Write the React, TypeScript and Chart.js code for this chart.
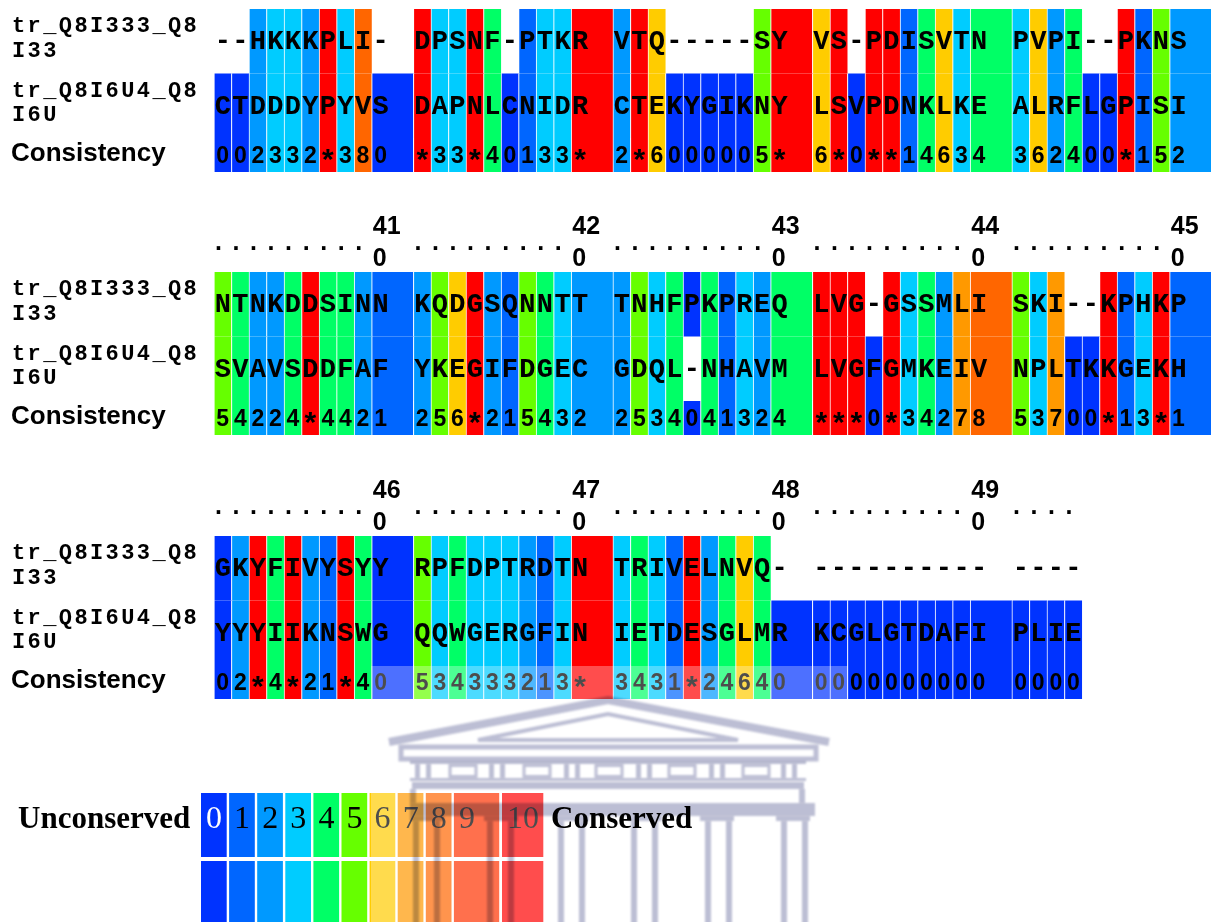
import React, { useEffect, useRef } from "react";
import { Chart, registerables } from "chart.js";

Chart.register(...registerables);

// ---------------- data ----------------
const SEQUENCE_NAMES = ["tr_Q8I333_Q8I33", "tr_Q8I6U4_Q8I6U"];
const CONSISTENCY_LABEL = "Consistency";
const BLOCK_FIRST_POSITION = [351, 401, 451];
const SHOW_RULER = [false, true, true];

const SEQ_A = [
  "--HKKKPLI- DPSNF-PTKR VTQ-----SY VS-PDISVTN PVPI--PKNS",
  "NTNKDDSINN KQDGSQNNTT TNHFPKPREQ LVG-GSSMLI SKI--KPHKP",
  "GKYFIVYSYY RPFDPTRDTN TRIVELNVQ- ---------- ----",
];
const SEQ_B = [
  "CTDDDYPYVS DAPNLCNIDR CTEKYGIKNY LSVPDNKLKE ALRFLGPISI",
  "SVAVSDDFAF YKEGIFDGEC GDQL-NHAVM LVGFGMKEIV NPLTKKGEKH",
  "YYYIIKNSWG QQWGERGFIN IETDESGLMR KCGLGTDAFI PLIE",
];
const CONSISTENCY = [
  "002332*380 *33*40133* 2*6000005* 6*0**14634 362400*152",
  "54224*4421 256*215432 2534041324 ***0*34278 53700*13*1",
  "02*4*21*40 534333213* 3431*24640 0000000000 0000",
];
const RULER_TICKS = [[], ["410", "420", "430", "440", "450"], ["460", "470", "480", "490"]];

const SCORE_COLORS = [
  "#0033ff", "#0066ff", "#0099ff", "#00ccff", "#00ff66", "#66ff00",
  "#ffcc00", "#ff9900", "#ff6600", "#ff3300", "#ff0000",
];
const LEGEND_LABELS = ["0", "1", "2", "3", "4", "5", "6", "7", "8", "9", "10"];
const LEGEND_LOW = "Unconserved";
const LEGEND_HIGH = "Conserved";

// ---------------- layout ----------------
const W = 1211;
const H = 922;
const CW = 17.53; // px per alignment column
const X0 = 214; // left edge of alignment
const GROUP_UNITS = 11.38; // 10 columns + spacer, in column units
const BLOCK_TOP = [9, 272, 536];
const SEQ_H = 64.5;
const CONS_H = 34;

const strip = (s: string) => s.replace(/ /g, "");
const colLeft = (i: number) => Math.floor(i / 10) * GROUP_UNITS + (i % 10);
const scoreOf = (ch: string) => (ch === "*" ? 10 : parseInt(ch, 10));
const rowCenter = (b: number, r: number) =>
  BLOCK_TOP[b] + (r === 0 ? SEQ_H / 2 : r === 1 ? SEQ_H * 1.5 : SEQ_H * 2 + CONS_H / 2);

type Cell = { x: [number, number]; y: number; c: string };

function buildCells() {
  const seqCells: Cell[] = [];
  const consCells: Cell[] = [];
  BLOCK_FIRST_POSITION.forEach((_, b) => {
    const rows = [strip(SEQ_A[b]), strip(SEQ_B[b]), strip(CONSISTENCY[b])];
    const cons = rows[2];
    for (let r = 0; r < 3; r++) {
      const s = rows[r];
      for (let i = 0; i < s.length; i++) {
        if (r < 2 && s[i] === "-") continue;
        const left = colLeft(i);
        const w = i % 10 === 9 ? 1 + (GROUP_UNITS - 10) : 1;
        const cell: Cell = { x: [left, left + w], y: rowCenter(b, r), c: SCORE_COLORS[scoreOf(cons[i])] };
        (r < 2 ? seqCells : consCells).push(cell);
      }
    }
  });
  return { seqCells, consCells };
}

function drawBuilding(ctx: CanvasRenderingContext2D) {
  ctx.save();
  ctx.globalCompositeOperation = "multiply";
  ctx.filter = "blur(0.8px)";
  const c = "#bcbed4";
  ctx.strokeStyle = c;
  ctx.fillStyle = c;
  ctx.lineJoin = "miter";
  // pediment
  ctx.lineWidth = 8;
  ctx.beginPath();
  ctx.moveTo(389, 742);
  ctx.lineTo(608, 700);
  ctx.lineTo(829, 742);
  ctx.stroke();
  ctx.lineWidth = 4;
  ctx.beginPath();
  ctx.moveTo(478, 740);
  ctx.lineTo(608, 714);
  ctx.lineTo(738, 740);
  ctx.closePath();
  ctx.stroke();
  // cornice
  ctx.lineWidth = 5;
  ctx.strokeRect(401, 747, 415, 12);
  // frieze
  ctx.fillRect(410, 761, 396, 3);
  ctx.fillRect(410, 778, 396, 3);
  const trig = [415, 489, 564, 636, 709, 781];
  trig.forEach((x) => {
    ctx.fillRect(x, 764, 5, 14);
    ctx.fillRect(x + 11, 764, 5, 14);
  });
  const met = [450, 524, 596, 669, 743];
  ctx.lineWidth = 3;
  met.forEach((x) => ctx.strokeRect(x, 765.5, 26, 11));
  // architrave
  ctx.fillRect(412, 782, 392, 7);
  ctx.fillRect(410, 789, 6, 14);
  ctx.fillRect(799, 789, 6, 14);
  // abacus band
  ctx.fillRect(410, 803, 405, 13);
  // capitals
  [413, 487, 558, 631, 703, 779].forEach((x) => ctx.fillRect(x - 3, 816, 34, 5));
  // columns
  const cols = [413, 487, 558, 631, 705, 781];
  cols.forEach((x) => {
    ctx.fillRect(x, 821, 6, 110);
    ctx.fillRect(x + 21, 821, 6, 110);
  });
  ctx.restore();
}

// draw a glyph vertically centred on yc
function centredText(ctx: CanvasRenderingContext2D, s: string, x: number, yc: number) {
  const m = ctx.measureText(s);
  const asc = m.actualBoundingBoxAscent;
  const desc = m.actualBoundingBoxDescent;
  ctx.fillText(s, x, yc + (asc - desc) / 2);
}

const alignmentPlugin = {
  id: "alignmentText",
  beforeDraw(chart: any) {
    const ctx: CanvasRenderingContext2D = chart.ctx;
    ctx.save();
    ctx.fillStyle = "#ffffff";
    ctx.fillRect(0, 0, chart.width, chart.height);
    ctx.restore();
  },
  afterDatasetsDraw(chart: any) {
    const ctx: CanvasRenderingContext2D = chart.ctx;
    const xs = chart.scales.x;
    const ys = chart.scales.y;
    ctx.save();
    ctx.fillStyle = "#000";
    ctx.textBaseline = "alphabetic";

    BLOCK_FIRST_POSITION.forEach((first, b) => {
      const rows = [strip(SEQ_A[b]), strip(SEQ_B[b]), strip(CONSISTENCY[b])];
      // row labels
      for (let r = 0; r < 3; r++) {
        const top = ys.getPixelForValue(rowCenter(b, r)) - (r < 2 ? SEQ_H : CONS_H) / 2;
        ctx.textAlign = "left";
        if (r < 2) {
          ctx.font = 'bold 22px "Liberation Mono"';
          (ctx as any).letterSpacing = "2.4px";
          const name = SEQUENCE_NAMES[r];
          ctx.fillText(name.slice(0, 12), 12, top + 23);
          ctx.fillText(name.slice(12), 12, top + 47.5);
          (ctx as any).letterSpacing = "0px";
        } else {
          ctx.font = 'bold 26px "Liberation Sans"';
          ctx.fillText(CONSISTENCY_LABEL, 11, top + 23);
        }
      }
      // residues and scores
      for (let r = 0; r < 3; r++) {
        const s = rows[r];
        const yc = ys.getPixelForValue(rowCenter(b, r));
        ctx.textAlign = "center";
        for (let i = 0; i < s.length; i++) {
          const xc = xs.getPixelForValue(colLeft(i) + 0.5);
          if (r < 2) {
            ctx.font = 'bold 27px "Liberation Mono"';
            ctx.fillText(s[i], xc, yc + 8);
          } else if (s[i] === "*") {
            ctx.font = 'bold 30px "Liberation Sans"';
            centredText(ctx, "*", xc, yc);
          } else {
            ctx.font = 'bold 23px "Liberation Sans"';
            ctx.fillText(s[i], xc, yc + 8);
          }
        }
      }
      // ruler
      if (SHOW_RULER[b]) {
        const top = ys.getPixelForValue(rowCenter(b, 0)) - SEQ_H / 2;
        const n = rows[0].length;
        const tickCols = RULER_TICKS[b].map((t) => parseInt(t, 10) - first);
        ctx.textAlign = "left";
        ctx.font = 'bold 25px "Liberation Sans"';
        for (let i = 0; i < n; i++) {
          const xl = xs.getPixelForValue(colLeft(i)) + 1;
          const ti = tickCols.indexOf(i);
          if (ti >= 0) {
            const t = RULER_TICKS[b][ti];
            ctx.fillText(t.slice(0, -1), xl, top - 38);
            ctx.fillText(t.slice(-1), xl, top - 6);
          } else {
            ctx.fillText(".", xl, top - 22);
          }
        }
      }
    });

    // legend
    const boxLeft = (i: number) => (i < 10 ? 201 + i * 28.1 : 502);
    const boxW = (i: number) => (i < 9 ? 25.7 : i === 9 ? 45.3 : 41.3);
    LEGEND_LABELS.forEach((lab, i) => {
      ctx.fillStyle = SCORE_COLORS[i];
      ctx.fillRect(boxLeft(i), 793, boxW(i), 64);
      ctx.fillRect(boxLeft(i), 861, boxW(i), 70);
      ctx.fillStyle = i === 0 ? "#ffffff" : "#000000";
      ctx.font = '32px "Liberation Serif"';
      ctx.textAlign = "left";
      ctx.fillText(lab, boxLeft(i) + 5, 828);
    });
    ctx.fillStyle = "#000";
    ctx.font = 'bold 31px "Liberation Serif"';
    ctx.textAlign = "left";
    ctx.fillText(LEGEND_LOW, 18, 828);

    // watermark panel
    ctx.fillStyle = "rgba(255,255,255,0.3)";
    ctx.fillRect(371, 666, 477, 260);

    ctx.fillStyle = "#000";
    ctx.font = 'bold 31px "Liberation Serif"';
    ctx.fillText(LEGEND_HIGH, 551, 828);

    drawBuilding(ctx);
    ctx.restore();
  },
};

export default function App() {
  const ref = useRef<HTMLCanvasElement | null>(null);
  useEffect(() => {
    if (!ref.current) return;
    const { seqCells, consCells } = buildCells();
    const common = {
      grouped: false,
      borderSkipped: false,
      borderWidth: { left: 1, right: 0, top: 0, bottom: 0 },
      borderColor: "#ffffff",
      inflateAmount: 0.4,
      backgroundColor: (ctx: any) => (ctx.raw ? ctx.raw.c : "rgba(0,0,0,0)"),
    };
    const chart = new Chart(ref.current, {
      type: "bar",
      data: {
        datasets: [
          { ...common, label: "sequences", data: seqCells as any, barThickness: SEQ_H },
          { ...common, label: "consistency", data: consCells as any, barThickness: CONS_H },
        ] as any,
      },
      options: {
        indexAxis: "y",
        responsive: false,
        animation: false,
        events: [],
        layout: { padding: 0 },
        scales: {
          x: { type: "linear", min: -X0 / CW, max: (W - X0) / CW, display: false, offset: false, grace: 0 },
          y: { type: "linear", min: 0, max: H, reverse: true, display: false, offset: false, grace: 0 },
        },
        plugins: { legend: { display: false }, tooltip: { enabled: false } },
      } as any,
      plugins: [alignmentPlugin as any],
    });
    return () => chart.destroy();
  }, []);
  return (
    <div style={{ position: "absolute", left: 0, top: 0, width: W, height: H }}>
      <canvas ref={ref} width={W} height={H} style={{ display: "block", width: W, height: H }} />
    </div>
  );
}
